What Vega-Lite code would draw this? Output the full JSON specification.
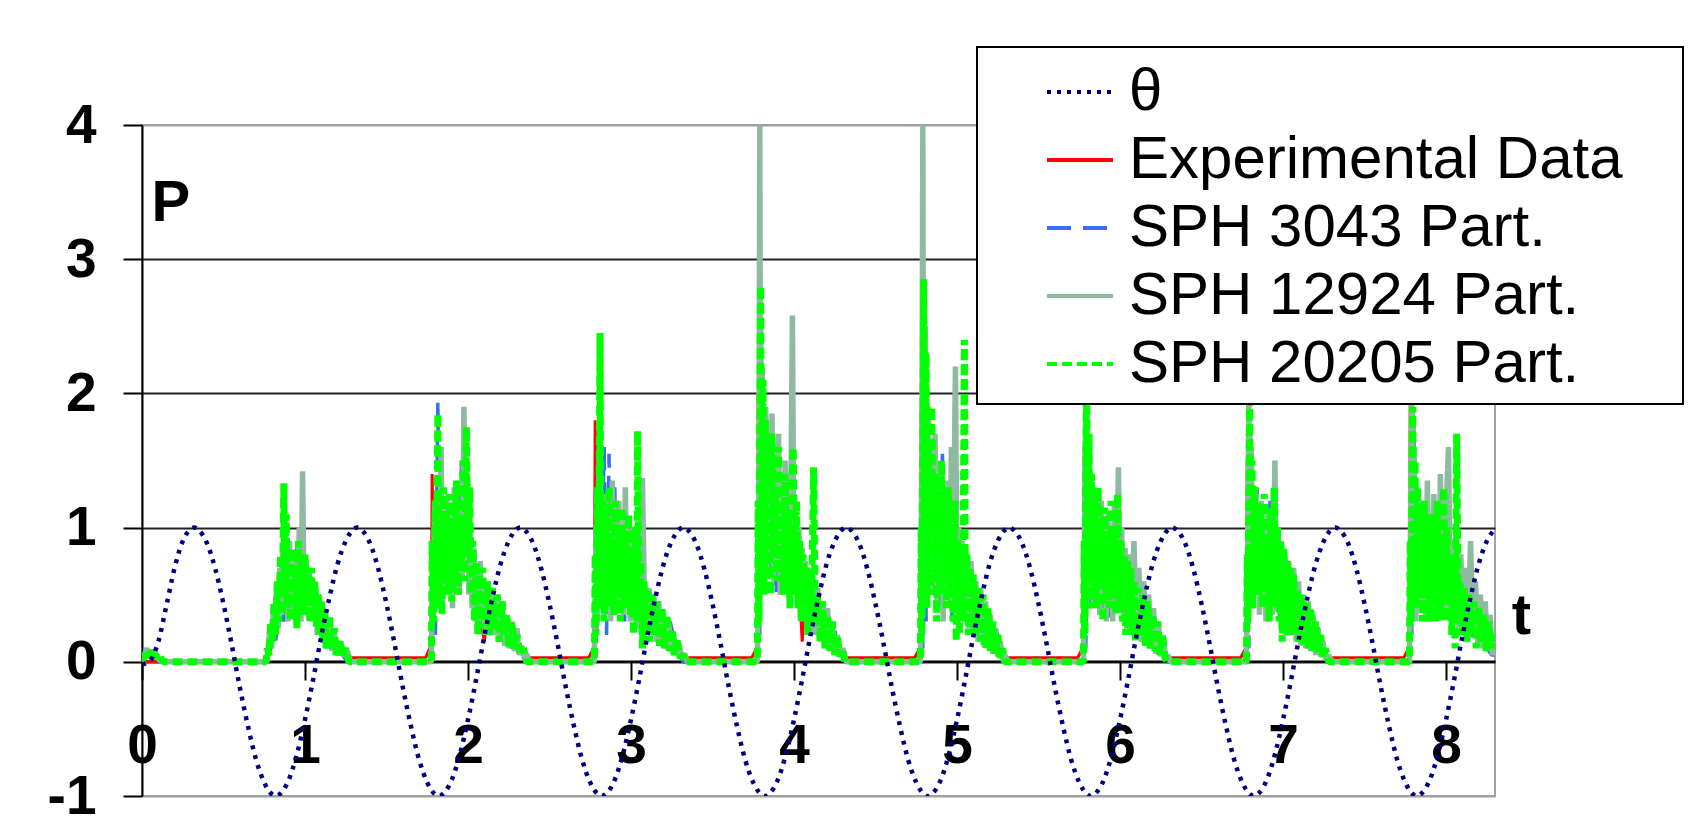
{
"$schema": "https://vega.github.io/schema/vega-lite/v6.json",
"width": 1353, "height": 671,
"autosize": {"type": "none"},
"padding": {"left": 142, "top": 125, "right": 193, "bottom": 36},
"background": "white",
"config": {
  "font": "Liberation Sans",
  "view": {"stroke": "#a0a0a0", "strokeWidth": 2},
  "legend": {"orient": "none", "legendX": 835, "legendY": -78, "symbolType": "stroke", "symbolSize": 4356, "symbolStrokeWidth": 4, "labelFont": "Liberation Sans", "labelFontSize": 60, "labelColor": "black", "labelLimit": 1000, "labelOffset": 14, "padding": 10, "symbolOffset": 58, "rowPadding": 3, "strokeColor": "black", "strokeWidth": 2, "fillColor": "white", "titleOrient": "right", "titlePadding": 50, "titleFontSize": 10, "titleColor": "black"}
},
"datasets": {
"theta": [
{"t":0,"p":-0.02},{"t":0.05,"p":0.01},{"t":0.1,"p":0.15},{"t":0.15,"p":0.42},{"t":0.2,"p":0.7},{"t":0.25,"p":0.9},{"t":0.3,"p":0.99},{"t":0.32,"p":1},{"t":0.35,"p":0.98},{"t":0.4,"p":0.88},{"t":0.45,"p":0.69},{"t":0.5,"p":0.43},{"t":0.55,"p":0.13},{"t":0.6,"p":-0.19},{"t":0.65,"p":-0.48},{"t":0.7,"p":-0.73},{"t":0.75,"p":-0.9},{"t":0.8,"p":-0.99},{"t":0.82,"p":-1},{"t":0.85,"p":-0.98},{"t":0.9,"p":-0.88},{"t":0.95,"p":-0.69},
{"t":1,"p":-0.43},{"t":1.05,"p":-0.13},{"t":1.1,"p":0.19},{"t":1.15,"p":0.48},{"t":1.2,"p":0.73},{"t":1.25,"p":0.9},{"t":1.3,"p":0.99},{"t":1.32,"p":1},{"t":1.35,"p":0.98},{"t":1.4,"p":0.88},{"t":1.45,"p":0.69},{"t":1.5,"p":0.43},{"t":1.55,"p":0.13},{"t":1.6,"p":-0.19},{"t":1.65,"p":-0.48},{"t":1.7,"p":-0.73},{"t":1.75,"p":-0.9},{"t":1.8,"p":-0.99},{"t":1.82,"p":-1},{"t":1.85,"p":-0.98},{"t":1.9,"p":-0.88},{"t":1.95,"p":-0.69},
{"t":2,"p":-0.43},{"t":2.05,"p":-0.13},{"t":2.1,"p":0.19},{"t":2.15,"p":0.48},{"t":2.2,"p":0.73},{"t":2.25,"p":0.9},{"t":2.3,"p":0.99},{"t":2.32,"p":1},{"t":2.35,"p":0.98},{"t":2.4,"p":0.88},{"t":2.45,"p":0.69},{"t":2.5,"p":0.43},{"t":2.55,"p":0.13},{"t":2.6,"p":-0.19},{"t":2.65,"p":-0.48},{"t":2.7,"p":-0.73},{"t":2.75,"p":-0.9},{"t":2.8,"p":-0.99},{"t":2.82,"p":-1},{"t":2.85,"p":-0.98},{"t":2.9,"p":-0.88},{"t":2.95,"p":-0.69},
{"t":3,"p":-0.43},{"t":3.05,"p":-0.13},{"t":3.1,"p":0.19},{"t":3.15,"p":0.48},{"t":3.2,"p":0.73},{"t":3.25,"p":0.9},{"t":3.3,"p":0.99},{"t":3.32,"p":1},{"t":3.35,"p":0.98},{"t":3.4,"p":0.88},{"t":3.45,"p":0.69},{"t":3.5,"p":0.43},{"t":3.55,"p":0.13},{"t":3.6,"p":-0.19},{"t":3.65,"p":-0.48},{"t":3.7,"p":-0.73},{"t":3.75,"p":-0.9},{"t":3.8,"p":-0.99},{"t":3.82,"p":-1},{"t":3.85,"p":-0.98},{"t":3.9,"p":-0.88},{"t":3.95,"p":-0.69},
{"t":4,"p":-0.43},{"t":4.05,"p":-0.13},{"t":4.1,"p":0.19},{"t":4.15,"p":0.48},{"t":4.2,"p":0.73},{"t":4.25,"p":0.9},{"t":4.3,"p":0.99},{"t":4.32,"p":1},{"t":4.35,"p":0.98},{"t":4.4,"p":0.88},{"t":4.45,"p":0.69},{"t":4.5,"p":0.43},{"t":4.55,"p":0.13},{"t":4.6,"p":-0.19},{"t":4.65,"p":-0.48},{"t":4.7,"p":-0.73},{"t":4.75,"p":-0.9},{"t":4.8,"p":-0.99},{"t":4.82,"p":-1},{"t":4.85,"p":-0.98},{"t":4.9,"p":-0.88},{"t":4.95,"p":-0.69},
{"t":5,"p":-0.43},{"t":5.05,"p":-0.13},{"t":5.1,"p":0.19},{"t":5.15,"p":0.48},{"t":5.2,"p":0.73},{"t":5.25,"p":0.9},{"t":5.3,"p":0.99},{"t":5.32,"p":1},{"t":5.35,"p":0.98},{"t":5.4,"p":0.88},{"t":5.45,"p":0.69},{"t":5.5,"p":0.43},{"t":5.55,"p":0.13},{"t":5.6,"p":-0.19},{"t":5.65,"p":-0.48},{"t":5.7,"p":-0.73},{"t":5.75,"p":-0.9},{"t":5.8,"p":-0.99},{"t":5.82,"p":-1},{"t":5.85,"p":-0.98},{"t":5.9,"p":-0.88},{"t":5.95,"p":-0.69},
{"t":6,"p":-0.43},{"t":6.05,"p":-0.13},{"t":6.1,"p":0.19},{"t":6.15,"p":0.48},{"t":6.2,"p":0.73},{"t":6.25,"p":0.9},{"t":6.3,"p":0.99},{"t":6.32,"p":1},{"t":6.35,"p":0.98},{"t":6.4,"p":0.88},{"t":6.45,"p":0.69},{"t":6.5,"p":0.43},{"t":6.55,"p":0.13},{"t":6.6,"p":-0.19},{"t":6.65,"p":-0.48},{"t":6.7,"p":-0.73},{"t":6.75,"p":-0.9},{"t":6.8,"p":-0.99},{"t":6.82,"p":-1},{"t":6.85,"p":-0.98},{"t":6.9,"p":-0.88},{"t":6.95,"p":-0.69},
{"t":7,"p":-0.43},{"t":7.05,"p":-0.13},{"t":7.1,"p":0.19},{"t":7.15,"p":0.48},{"t":7.2,"p":0.73},{"t":7.25,"p":0.9},{"t":7.3,"p":0.99},{"t":7.32,"p":1},{"t":7.35,"p":0.98},{"t":7.4,"p":0.88},{"t":7.45,"p":0.69},{"t":7.5,"p":0.43},{"t":7.55,"p":0.13},{"t":7.6,"p":-0.19},{"t":7.65,"p":-0.48},{"t":7.7,"p":-0.73},{"t":7.75,"p":-0.9},{"t":7.8,"p":-0.99},{"t":7.82,"p":-1},{"t":7.85,"p":-0.98},{"t":7.9,"p":-0.88},{"t":7.95,"p":-0.69},
{"t":8,"p":-0.43},{"t":8.05,"p":-0.13},{"t":8.1,"p":0.19},{"t":8.15,"p":0.48},{"t":8.2,"p":0.73},{"t":8.25,"p":0.9},{"t":8.3,"p":0.99}
],
"expt": [
{"t":0,"p":0},{"t":0.77,"p":0},{"t":0.78,"p":0.05},{"t":0.85,"p":0.4},{"t":0.9,"p":0.6},{"t":0.95,"p":0.5},{"t":1,"p":0.6},{"t":1.05,"p":0.4},{"t":1.1,"p":0.3},{"t":1.2,"p":0.1},{"t":1.26,"p":0.03},
{"t":1.74,"p":0.03},{"t":1.765,"p":0.1},{"t":1.775,"p":0.15},{"t":1.78,"p":1.4},{"t":1.79,"p":0.6},{"t":1.82,"p":1.0},{"t":1.86,"p":0.8},{"t":1.9,"p":1.0},{"t":1.95,"p":0.9},{"t":2,"p":1.0},{"t":2.04,"p":0.5},{"t":2.08,"p":0.3},{"t":2.1,"p":0.15},{"t":2.12,"p":0.4},{"t":2.18,"p":0.35},{"t":2.25,"p":0.25},{"t":2.32,"p":0.1},{"t":2.36,"p":0.03},
{"t":2.74,"p":0.03},{"t":2.77,"p":0.1},{"t":2.775,"p":0.2},{"t":2.78,"p":1.8},{"t":2.79,"p":0.9},{"t":2.82,"p":1.2},{"t":2.86,"p":0.9},{"t":2.9,"p":1.1},{"t":2.95,"p":0.8},{"t":3,"p":0.9},{"t":3.05,"p":0.6},{"t":3.1,"p":0.45},{"t":3.15,"p":0.4},{"t":3.2,"p":0.3},{"t":3.27,"p":0.15},{"t":3.32,"p":0.03},
{"t":3.74,"p":0.03},{"t":3.77,"p":0.1},{"t":3.775,"p":0.2},{"t":3.78,"p":2.0},{"t":3.79,"p":1.0},{"t":3.83,"p":1.5},{"t":3.87,"p":1.2},{"t":3.92,"p":1.3},{"t":3.97,"p":0.9},{"t":4,"p":0.8},{"t":4.03,"p":0.6},{"t":4.05,"p":0.15},{"t":4.07,"p":0.5},{"t":4.12,"p":0.4},{"t":4.18,"p":0.3},{"t":4.24,"p":0.2},{"t":4.3,"p":0.03},
{"t":4.74,"p":0.03},{"t":4.77,"p":0.1},{"t":4.775,"p":0.2},{"t":4.78,"p":1.9},{"t":4.79,"p":0.9},{"t":4.83,"p":1.3},{"t":4.87,"p":1.0},{"t":4.92,"p":1.1},{"t":4.96,"p":0.8},{"t":5,"p":0.7},{"t":5.02,"p":0.5},{"t":5.06,"p":0.55},{"t":5.12,"p":0.4},{"t":5.18,"p":0.25},{"t":5.24,"p":0.15},{"t":5.29,"p":0.03},
{"t":5.74,"p":0.03},{"t":5.77,"p":0.1},{"t":5.775,"p":0.2},{"t":5.78,"p":1.6},{"t":5.79,"p":0.8},{"t":5.83,"p":1.1},{"t":5.87,"p":0.9},{"t":5.92,"p":0.95},{"t":5.96,"p":0.7},{"t":6,"p":0.65},{"t":6.02,"p":0.3},{"t":6.06,"p":0.5},{"t":6.12,"p":0.4},{"t":6.18,"p":0.25},{"t":6.24,"p":0.12},{"t":6.29,"p":0.03},
{"t":6.74,"p":0.03},{"t":6.77,"p":0.1},{"t":6.775,"p":0.2},{"t":6.78,"p":1.5},{"t":6.79,"p":0.7},{"t":6.83,"p":1.0},{"t":6.87,"p":0.85},{"t":6.91,"p":0.9},{"t":6.95,"p":0.75},{"t":6.99,"p":0.6},{"t":7.02,"p":0.2},{"t":7.06,"p":0.45},{"t":7.12,"p":0.35},{"t":7.18,"p":0.22},{"t":7.24,"p":0.1},{"t":7.28,"p":0.03},
{"t":7.74,"p":0.03},{"t":7.77,"p":0.1},{"t":7.775,"p":0.4},{"t":7.78,"p":2.05},{"t":7.79,"p":1.0},{"t":7.83,"p":1.2},{"t":7.87,"p":0.9},{"t":7.92,"p":1.0},{"t":7.96,"p":0.8},{"t":8,"p":0.7},{"t":8.03,"p":0.35},{"t":8.07,"p":0.5},{"t":8.12,"p":0.4},{"t":8.18,"p":0.25},{"t":8.24,"p":0.2},{"t":8.3,"p":0.1}
],
"s3043": [
{"t":0,"p":0},{"t":0.02,"p":0.1},{"t":0.04,"p":0.05},{"t":0.06,"p":0.1},{"t":0.07,"p":0.03},{"t":0.09,"p":0.03},{"t":0.1,"p":0.01},{"t":0.13,"p":0},
{"t":0.77,"p":0},{"t":0.8,"p":0.3},{"t":0.82,"p":0.15},{"t":0.85,"p":0.55},{"t":0.87,"p":0.3},{"t":0.9,"p":0.75},{"t":0.92,"p":0.4},{"t":0.95,"p":0.85},{"t":0.97,"p":0.45},{"t":1,"p":0.7},{"t":1.03,"p":0.35},{"t":1.06,"p":0.55},{"t":1.09,"p":0.2},{"t":1.12,"p":0.35},{"t":1.15,"p":0.1},{"t":1.19,"p":0.2},{"t":1.23,"p":0.05},{"t":1.26,"p":0},
{"t":1.775,"p":0},{"t":1.79,"p":0.4},{"t":1.8,"p":0.2},{"t":1.815,"p":1.95},{"t":1.825,"p":0.5},{"t":1.84,"p":1.1},{"t":1.86,"p":0.5},{"t":1.88,"p":1.0},{"t":1.9,"p":0.6},{"t":1.92,"p":1.05},{"t":1.94,"p":0.5},{"t":1.96,"p":1.5},{"t":1.98,"p":0.7},{"t":2,"p":1.2},{"t":2.02,"p":0.6},{"t":2.04,"p":0.8},{"t":2.06,"p":0.35},{"t":2.09,"p":0.6},{"t":2.12,"p":0.25},{"t":2.15,"p":0.5},{"t":2.19,"p":0.2},{"t":2.23,"p":0.3},{"t":2.27,"p":0.1},{"t":2.31,"p":0.15},{"t":2.35,"p":0},
{"t":2.775,"p":0},{"t":2.785,"p":0.6},{"t":2.79,"p":0.2},{"t":2.8,"p":1.45},{"t":2.815,"p":0.4},{"t":2.835,"p":1.6},{"t":2.85,"p":0.2},{"t":2.865,"p":1.55},{"t":2.88,"p":0.35},{"t":2.9,"p":1.3},{"t":2.92,"p":0.4},{"t":2.94,"p":1.0},{"t":2.96,"p":0.3},{"t":2.98,"p":0.9},{"t":3,"p":0.35},{"t":3.02,"p":0.8},{"t":3.05,"p":0.25},{"t":3.08,"p":0.6},{"t":3.12,"p":0.3},{"t":3.16,"p":0.45},{"t":3.2,"p":0.15},{"t":3.24,"p":0.3},{"t":3.28,"p":0.08},{"t":3.32,"p":0},
{"t":3.775,"p":0},{"t":3.785,"p":0.9},{"t":3.79,"p":0.2},{"t":3.8,"p":2.5},{"t":3.81,"p":0.6},{"t":3.83,"p":1.9},{"t":3.85,"p":0.7},{"t":3.87,"p":1.6},{"t":3.89,"p":0.5},{"t":3.91,"p":1.5},{"t":3.93,"p":0.6},{"t":3.95,"p":1.4},{"t":3.97,"p":0.4},{"t":3.99,"p":1.1},{"t":4.01,"p":0.7},{"t":4.03,"p":0.9},{"t":4.06,"p":0.4},{"t":4.09,"p":0.7},{"t":4.12,"p":0.25},{"t":4.16,"p":0.45},{"t":4.2,"p":0.15},{"t":4.24,"p":0.3},{"t":4.28,"p":0.05},{"t":4.31,"p":0},
{"t":4.775,"p":0},{"t":4.785,"p":0.8},{"t":4.79,"p":0.1},{"t":4.8,"p":2.2},{"t":4.81,"p":0.3},{"t":4.83,"p":1.7},{"t":4.85,"p":0.5},{"t":4.87,"p":1.35},{"t":4.89,"p":0.4},{"t":4.91,"p":1.55},{"t":4.93,"p":0.6},{"t":4.95,"p":1.2},{"t":4.97,"p":0.3},{"t":4.99,"p":1.0},{"t":5.01,"p":0.5},{"t":5.03,"p":0.85},{"t":5.06,"p":0.3},{"t":5.09,"p":0.6},{"t":5.12,"p":0.2},{"t":5.16,"p":0.4},{"t":5.2,"p":0.1},{"t":5.24,"p":0.25},{"t":5.28,"p":0.03},{"t":5.3,"p":0},
{"t":5.775,"p":0},{"t":5.785,"p":0.7},{"t":5.79,"p":0.1},{"t":5.8,"p":1.6},{"t":5.82,"p":0.4},{"t":5.84,"p":1.3},{"t":5.86,"p":0.5},{"t":5.88,"p":1.1},{"t":5.9,"p":0.4},{"t":5.92,"p":1.05},{"t":5.94,"p":0.3},{"t":5.96,"p":0.9},{"t":5.98,"p":0.45},{"t":6,"p":0.8},{"t":6.03,"p":0.3},{"t":6.06,"p":0.6},{"t":6.09,"p":0.25},{"t":6.13,"p":0.45},{"t":6.17,"p":0.15},{"t":6.21,"p":0.3},{"t":6.25,"p":0.05},{"t":6.29,"p":0},
{"t":6.775,"p":0},{"t":6.785,"p":0.6},{"t":6.79,"p":0.1},{"t":6.8,"p":1.7},{"t":6.82,"p":0.4},{"t":6.84,"p":1.3},{"t":6.86,"p":0.5},{"t":6.88,"p":1.05},{"t":6.9,"p":0.35},{"t":6.92,"p":1.2},{"t":6.94,"p":0.4},{"t":6.96,"p":0.9},{"t":6.98,"p":0.3},{"t":7,"p":0.8},{"t":7.03,"p":0.25},{"t":7.06,"p":0.6},{"t":7.09,"p":0.2},{"t":7.13,"p":0.45},{"t":7.17,"p":0.12},{"t":7.21,"p":0.28},{"t":7.25,"p":0.04},{"t":7.28,"p":0},
{"t":7.775,"p":0},{"t":7.785,"p":0.8},{"t":7.79,"p":0.2},{"t":7.8,"p":1.85},{"t":7.82,"p":0.5},{"t":7.84,"p":1.2},{"t":7.86,"p":0.4},{"t":7.88,"p":1.05},{"t":7.9,"p":0.3},{"t":7.92,"p":1.2},{"t":7.94,"p":0.6},{"t":7.96,"p":0.9},{"t":7.98,"p":0.4},{"t":8,"p":0.75},{"t":8.03,"p":0.3},{"t":8.06,"p":0.6},{"t":8.09,"p":0.25},{"t":8.13,"p":0.5},{"t":8.17,"p":0.15},{"t":8.21,"p":0.3},{"t":8.25,"p":0.1},{"t":8.28,"p":0.05},{"t":8.3,"p":0.05}
],
"s12924": [
{"t":0,"p":0},{"t":0.015,"p":0.05},{"t":0.03,"p":0.1},{"t":0.045,"p":0.04},{"t":0.06,"p":0.09},{"t":0.075,"p":0.03},{"t":0.09,"p":0.05},{"t":0.11,"p":0.01},{"t":0.13,"p":0},
{"t":0.765,"p":0},{"t":0.775,"p":0.12},{"t":0.785,"p":0.25},{"t":0.795,"p":0.1},{"t":0.805,"p":0.4},{"t":0.815,"p":0.2},{"t":0.825,"p":0.55},{"t":0.835,"p":0.25},{"t":0.845,"p":0.7},{"t":0.855,"p":0.35},{"t":0.865,"p":0.85},{"t":0.875,"p":0.4},{"t":0.885,"p":0.65},{"t":0.895,"p":0.3},{"t":0.905,"p":0.9},{"t":0.915,"p":0.45},{"t":0.925,"p":0.7},{"t":0.935,"p":0.35},{"t":0.945,"p":0.8},{"t":0.955,"p":0.5},{"t":0.965,"p":1.0},{"t":0.975,"p":0.3},{"t":0.985,"p":1.42},{"t":0.995,"p":0.4},{"t":1.005,"p":0.75},{"t":1.015,"p":0.4},{"t":1.025,"p":0.7},{"t":1.035,"p":0.3},{"t":1.045,"p":0.6},{"t":1.055,"p":0.3},{"t":1.065,"p":0.55},{"t":1.075,"p":0.2},{"t":1.085,"p":0.5},{"t":1.095,"p":0.2},{"t":1.105,"p":0.45},{"t":1.115,"p":0.15},{"t":1.125,"p":0.35},{"t":1.135,"p":0.1},{"t":1.15,"p":0.3},{"t":1.165,"p":0.08},{"t":1.18,"p":0.2},{"t":1.2,"p":0.05},{"t":1.22,"p":0.15},{"t":1.24,"p":0.04},{"t":1.26,"p":0.08},{"t":1.28,"p":0},
{"t":1.775,"p":0},{"t":1.78,"p":0.6},{"t":1.785,"p":0.3},{"t":1.795,"p":1.2},{"t":1.805,"p":0.5},{"t":1.815,"p":1.0},{"t":1.825,"p":0.4},{"t":1.835,"p":1.6},{"t":1.845,"p":0.45},{"t":1.855,"p":1.1},{"t":1.865,"p":0.5},{"t":1.875,"p":1.25},{"t":1.885,"p":0.6},{"t":1.895,"p":1.0},{"t":1.905,"p":0.4},{"t":1.915,"p":1.3},{"t":1.925,"p":0.55},{"t":1.935,"p":1.05},{"t":1.945,"p":0.5},{"t":1.955,"p":1.2},{"t":1.965,"p":0.6},{"t":1.975,"p":1.9},{"t":1.985,"p":0.7},{"t":1.995,"p":1.4},{"t":2.005,"p":0.5},{"t":2.015,"p":1.0},{"t":2.025,"p":0.4},{"t":2.035,"p":0.85},{"t":2.045,"p":0.3},{"t":2.055,"p":0.7},{"t":2.065,"p":0.25},{"t":2.075,"p":0.75},{"t":2.085,"p":0.3},{"t":2.095,"p":0.6},{"t":2.105,"p":0.2},{"t":2.12,"p":0.6},{"t":2.135,"p":0.25},{"t":2.15,"p":0.55},{"t":2.165,"p":0.2},{"t":2.18,"p":0.5},{"t":2.195,"p":0.15},{"t":2.21,"p":0.45},{"t":2.225,"p":0.12},{"t":2.24,"p":0.35},{"t":2.255,"p":0.1},{"t":2.27,"p":0.3},{"t":2.285,"p":0.08},{"t":2.3,"p":0.25},{"t":2.315,"p":0.05},{"t":2.33,"p":0.12},{"t":2.345,"p":0.03},{"t":2.36,"p":0.06},{"t":2.375,"p":0},
{"t":2.775,"p":0},{"t":2.785,"p":1.0},{"t":2.795,"p":0.3},{"t":2.805,"p":1.6},{"t":2.815,"p":0.5},{"t":2.825,"p":1.1},{"t":2.835,"p":0.35},{"t":2.845,"p":1.25},{"t":2.855,"p":0.5},{"t":2.865,"p":0.95},{"t":2.875,"p":0.3},{"t":2.885,"p":1.35},{"t":2.895,"p":0.55},{"t":2.905,"p":1.0},{"t":2.915,"p":0.4},{"t":2.925,"p":1.2},{"t":2.935,"p":0.5},{"t":2.945,"p":0.9},{"t":2.955,"p":0.35},{"t":2.965,"p":1.3},{"t":2.975,"p":0.5},{"t":2.985,"p":0.85},{"t":2.995,"p":0.3},{"t":3.005,"p":1.0},{"t":3.015,"p":0.4},{"t":3.025,"p":0.8},{"t":3.035,"p":0.25},{"t":3.05,"p":0.65},{"t":3.065,"p":0.2},{"t":3.07,"p":1.37},{"t":3.08,"p":0.6},{"t":3.095,"p":0.25},{"t":3.11,"p":0.55},{"t":3.125,"p":0.2},{"t":3.14,"p":0.5},{"t":3.155,"p":0.15},{"t":3.17,"p":0.45},{"t":3.185,"p":0.12},{"t":3.2,"p":0.35},{"t":3.215,"p":0.1},{"t":3.23,"p":0.3},{"t":3.245,"p":0.08},{"t":3.26,"p":0.22},{"t":3.275,"p":0.05},{"t":3.29,"p":0.15},{"t":3.31,"p":0.04},{"t":3.33,"p":0.06},{"t":3.345,"p":0},
{"t":3.775,"p":0},{"t":3.785,"p":1.5},{"t":3.79,"p":4.0},{"t":3.795,"p":0.8},{"t":3.805,"p":2.2},{"t":3.815,"p":0.9},{"t":3.825,"p":1.9},{"t":3.835,"p":0.7},{"t":3.845,"p":1.6},{"t":3.855,"p":0.8},{"t":3.865,"p":1.85},{"t":3.875,"p":0.6},{"t":3.885,"p":1.4},{"t":3.895,"p":0.7},{"t":3.905,"p":1.7},{"t":3.915,"p":0.5},{"t":3.925,"p":1.3},{"t":3.935,"p":0.6},{"t":3.945,"p":1.5},{"t":3.955,"p":0.7},{"t":3.965,"p":1.2},{"t":3.975,"p":0.4},{"t":3.99,"p":2.58},{"t":4,"p":0.5},{"t":4.01,"p":1.1},{"t":4.02,"p":0.4},{"t":4.03,"p":1.0},{"t":4.04,"p":0.3},{"t":4.05,"p":0.85},{"t":4.06,"p":0.3},{"t":4.07,"p":0.75},{"t":4.08,"p":0.25},{"t":4.09,"p":0.7},{"t":4.1,"p":0.2},{"t":4.115,"p":0.6},{"t":4.13,"p":0.2},{"t":4.145,"p":0.55},{"t":4.16,"p":0.15},{"t":4.175,"p":0.45},{"t":4.19,"p":0.12},{"t":4.205,"p":0.4},{"t":4.22,"p":0.1},{"t":4.235,"p":0.3},{"t":4.25,"p":0.06},{"t":4.265,"p":0.2},{"t":4.28,"p":0.04},{"t":4.3,"p":0.1},{"t":4.32,"p":0},
{"t":4.775,"p":0},{"t":4.785,"p":1.8},{"t":4.79,"p":4.0},{"t":4.795,"p":1.0},{"t":4.805,"p":2.5},{"t":4.815,"p":0.7},{"t":4.825,"p":1.9},{"t":4.835,"p":0.5},{"t":4.845,"p":1.5},{"t":4.855,"p":0.7},{"t":4.865,"p":1.7},{"t":4.875,"p":0.4},{"t":4.885,"p":1.3},{"t":4.895,"p":0.6},{"t":4.905,"p":1.4},{"t":4.915,"p":0.3},{"t":4.925,"p":1.2},{"t":4.935,"p":0.5},{"t":4.945,"p":1.35},{"t":4.955,"p":0.4},{"t":4.965,"p":1.6},{"t":4.975,"p":0.5},{"t":4.99,"p":2.2},{"t":5,"p":0.4},{"t":5.01,"p":1.0},{"t":5.02,"p":0.3},{"t":5.03,"p":0.9},{"t":5.04,"p":0.35},{"t":5.055,"p":0.8},{"t":5.07,"p":0.25},{"t":5.085,"p":0.75},{"t":5.1,"p":0.2},{"t":5.115,"p":0.6},{"t":5.13,"p":0.15},{"t":5.145,"p":0.55},{"t":5.16,"p":0.12},{"t":5.175,"p":0.45},{"t":5.19,"p":0.1},{"t":5.205,"p":0.35},{"t":5.22,"p":0.06},{"t":5.235,"p":0.25},{"t":5.25,"p":0.04},{"t":5.265,"p":0.15},{"t":5.28,"p":0.02},{"t":5.295,"p":0.05},{"t":5.31,"p":0},
{"t":5.775,"p":0},{"t":5.785,"p":1.4},{"t":5.79,"p":2.0},{"t":5.795,"p":0.6},{"t":5.805,"p":1.5},{"t":5.815,"p":0.5},{"t":5.825,"p":1.2},{"t":5.835,"p":0.4},{"t":5.845,"p":1.3},{"t":5.855,"p":0.6},{"t":5.865,"p":1.0},{"t":5.875,"p":0.35},{"t":5.885,"p":1.2},{"t":5.895,"p":0.5},{"t":5.905,"p":0.9},{"t":5.915,"p":0.3},{"t":5.925,"p":1.1},{"t":5.935,"p":0.45},{"t":5.945,"p":1.0},{"t":5.955,"p":0.3},{"t":5.965,"p":1.2},{"t":5.975,"p":0.5},{"t":5.99,"p":1.45},{"t":6,"p":0.4},{"t":6.01,"p":1.0},{"t":6.02,"p":0.3},{"t":6.03,"p":0.85},{"t":6.04,"p":0.25},{"t":6.055,"p":0.8},{"t":6.07,"p":0.3},{"t":6.085,"p":0.9},{"t":6.1,"p":0.2},{"t":6.115,"p":0.7},{"t":6.13,"p":0.15},{"t":6.145,"p":0.6},{"t":6.16,"p":0.12},{"t":6.175,"p":0.5},{"t":6.19,"p":0.1},{"t":6.205,"p":0.4},{"t":6.22,"p":0.06},{"t":6.235,"p":0.3},{"t":6.25,"p":0.04},{"t":6.265,"p":0.2},{"t":6.28,"p":0.02},{"t":6.295,"p":0.05},{"t":6.31,"p":0},
{"t":6.775,"p":0},{"t":6.785,"p":1.2},{"t":6.79,"p":2.0},{"t":6.795,"p":0.5},{"t":6.805,"p":1.6},{"t":6.815,"p":0.4},{"t":6.825,"p":1.3},{"t":6.835,"p":0.5},{"t":6.845,"p":1.1},{"t":6.855,"p":0.35},{"t":6.865,"p":1.2},{"t":6.875,"p":0.5},{"t":6.885,"p":0.95},{"t":6.895,"p":0.3},{"t":6.905,"p":1.1},{"t":6.915,"p":0.45},{"t":6.925,"p":1.0},{"t":6.935,"p":0.35},{"t":6.95,"p":1.5},{"t":6.96,"p":0.4},{"t":6.97,"p":1.0},{"t":6.98,"p":0.35},{"t":6.99,"p":0.9},{"t":7,"p":0.25},{"t":7.01,"p":0.8},{"t":7.02,"p":0.2},{"t":7.035,"p":0.75},{"t":7.05,"p":0.2},{"t":7.065,"p":0.7},{"t":7.08,"p":0.15},{"t":7.095,"p":0.6},{"t":7.11,"p":0.12},{"t":7.125,"p":0.5},{"t":7.14,"p":0.1},{"t":7.155,"p":0.45},{"t":7.17,"p":0.08},{"t":7.185,"p":0.35},{"t":7.2,"p":0.05},{"t":7.215,"p":0.25},{"t":7.23,"p":0.04},{"t":7.245,"p":0.15},{"t":7.26,"p":0.02},{"t":7.28,"p":0.05},{"t":7.3,"p":0},
{"t":7.775,"p":0},{"t":7.785,"p":1.5},{"t":7.79,"p":2.0},{"t":7.795,"p":0.4},{"t":7.805,"p":1.6},{"t":7.815,"p":0.3},{"t":7.825,"p":1.3},{"t":7.835,"p":0.5},{"t":7.845,"p":1.2},{"t":7.855,"p":0.4},{"t":7.865,"p":1.1},{"t":7.875,"p":0.3},{"t":7.885,"p":1.35},{"t":7.895,"p":0.5},{"t":7.905,"p":1.0},{"t":7.915,"p":0.35},{"t":7.925,"p":1.25},{"t":7.935,"p":0.45},{"t":7.945,"p":1.1},{"t":7.955,"p":0.4},{"t":7.965,"p":1.4},{"t":7.975,"p":0.5},{"t":7.985,"p":1.2},{"t":7.995,"p":0.4},{"t":8.005,"p":1.3},{"t":8.015,"p":1.6},{"t":8.025,"p":0.4},{"t":8.035,"p":0.9},{"t":8.045,"p":0.3},{"t":8.06,"p":1.0},{"t":8.075,"p":0.25},{"t":8.09,"p":0.8},{"t":8.105,"p":0.2},{"t":8.12,"p":0.7},{"t":8.135,"p":0.15},{"t":8.15,"p":0.9},{"t":8.165,"p":0.2},{"t":8.18,"p":0.6},{"t":8.195,"p":0.12},{"t":8.21,"p":0.5},{"t":8.225,"p":0.1},{"t":8.24,"p":0.45},{"t":8.255,"p":0.08},{"t":8.27,"p":0.35},{"t":8.285,"p":0.05},{"t":8.3,"p":0.2}
],
"s20205": [
{"t":0,"p":0},{"t":0.02,"p":0.06},{"t":0.035,"p":0.02},{"t":0.05,"p":0.08},{"t":0.065,"p":0.03},{"t":0.08,"p":0.06},{"t":0.095,"p":0.02},{"t":0.11,"p":0.04},{"t":0.13,"p":0},
{"t":0.76,"p":0},{"t":0.77,"p":0.1},{"t":0.78,"p":0.05},{"t":0.79,"p":0.3},{"t":0.8,"p":0.15},{"t":0.81,"p":0.45},{"t":0.82,"p":0.2},{"t":0.83,"p":0.6},{"t":0.84,"p":0.3},{"t":0.85,"p":0.8},{"t":0.86,"p":0.35},{"t":0.87,"p":1.33},{"t":0.875,"p":0.5},{"t":0.885,"p":1.1},{"t":0.89,"p":0.4},{"t":0.9,"p":0.75},{"t":0.91,"p":0.3},{"t":0.92,"p":0.85},{"t":0.93,"p":0.45},{"t":0.94,"p":0.7},{"t":0.95,"p":0.25},{"t":0.96,"p":0.9},{"t":0.97,"p":0.4},{"t":0.98,"p":0.75},{"t":0.99,"p":0.35},{"t":1,"p":0.8},{"t":1.01,"p":0.45},{"t":1.02,"p":0.65},{"t":1.03,"p":0.3},{"t":1.04,"p":0.7},{"t":1.05,"p":0.35},{"t":1.06,"p":0.6},{"t":1.07,"p":0.25},{"t":1.08,"p":0.5},{"t":1.09,"p":0.2},{"t":1.1,"p":0.45},{"t":1.11,"p":0.15},{"t":1.12,"p":0.4},{"t":1.13,"p":0.1},{"t":1.15,"p":0.35},{"t":1.16,"p":0.1},{"t":1.18,"p":0.25},{"t":1.19,"p":0.05},{"t":1.21,"p":0.15},{"t":1.23,"p":0.05},{"t":1.25,"p":0.1},{"t":1.27,"p":0},
{"t":1.775,"p":0},{"t":1.78,"p":0.9},{"t":1.79,"p":0.3},{"t":1.8,"p":1.2},{"t":1.805,"p":0.5},{"t":1.815,"p":1.85},{"t":1.82,"p":0.4},{"t":1.83,"p":1.0},{"t":1.84,"p":0.35},{"t":1.85,"p":1.3},{"t":1.86,"p":0.6},{"t":1.87,"p":1.1},{"t":1.88,"p":0.5},{"t":1.89,"p":1.25},{"t":1.9,"p":0.45},{"t":1.91,"p":1.0},{"t":1.92,"p":0.6},{"t":1.93,"p":1.35},{"t":1.94,"p":0.5},{"t":1.95,"p":1.1},{"t":1.96,"p":0.7},{"t":1.97,"p":1.5},{"t":1.98,"p":0.6},{"t":1.99,"p":1.75},{"t":2,"p":0.8},{"t":2.01,"p":1.3},{"t":2.02,"p":0.5},{"t":2.03,"p":0.9},{"t":2.04,"p":0.3},{"t":2.05,"p":0.75},{"t":2.06,"p":0.2},{"t":2.07,"p":0.65},{"t":2.08,"p":0.25},{"t":2.09,"p":0.7},{"t":2.1,"p":0.3},{"t":2.12,"p":0.6},{"t":2.13,"p":0.2},{"t":2.15,"p":0.55},{"t":2.16,"p":0.25},{"t":2.18,"p":0.5},{"t":2.19,"p":0.15},{"t":2.21,"p":0.45},{"t":2.22,"p":0.2},{"t":2.24,"p":0.35},{"t":2.25,"p":0.1},{"t":2.27,"p":0.3},{"t":2.28,"p":0.1},{"t":2.3,"p":0.2},{"t":2.32,"p":0.05},{"t":2.34,"p":0.1},{"t":2.36,"p":0},
{"t":2.775,"p":0},{"t":2.78,"p":0.8},{"t":2.785,"p":0.2},{"t":2.795,"p":1.3},{"t":2.8,"p":0.4},{"t":2.81,"p":2.45},{"t":2.815,"p":0.6},{"t":2.825,"p":1.2},{"t":2.835,"p":0.3},{"t":2.845,"p":1.1},{"t":2.855,"p":0.4},{"t":2.865,"p":1.3},{"t":2.875,"p":0.5},{"t":2.885,"p":0.9},{"t":2.895,"p":0.35},{"t":2.905,"p":1.2},{"t":2.915,"p":0.5},{"t":2.925,"p":1.0},{"t":2.935,"p":0.3},{"t":2.945,"p":1.15},{"t":2.955,"p":0.45},{"t":2.965,"p":0.95},{"t":2.975,"p":0.4},{"t":2.985,"p":1.1},{"t":2.995,"p":0.35},{"t":3.005,"p":0.8},{"t":3.015,"p":0.2},{"t":3.025,"p":1.0},{"t":3.035,"p":0.3},{"t":3.04,"p":1.72},{"t":3.05,"p":0.35},{"t":3.06,"p":0.75},{"t":3.07,"p":0.1},{"t":3.08,"p":0.6},{"t":3.09,"p":0.2},{"t":3.1,"p":0.55},{"t":3.115,"p":0.15},{"t":3.13,"p":0.5},{"t":3.145,"p":0.2},{"t":3.16,"p":0.45},{"t":3.175,"p":0.12},{"t":3.19,"p":0.4},{"t":3.205,"p":0.1},{"t":3.22,"p":0.35},{"t":3.235,"p":0.08},{"t":3.25,"p":0.25},{"t":3.265,"p":0.05},{"t":3.28,"p":0.18},{"t":3.3,"p":0.03},{"t":3.32,"p":0.05},{"t":3.33,"p":0},
{"t":3.775,"p":0},{"t":3.78,"p":1.2},{"t":3.785,"p":0.3},{"t":3.795,"p":2.8},{"t":3.8,"p":0.7},{"t":3.81,"p":2.1},{"t":3.815,"p":0.5},{"t":3.825,"p":1.8},{"t":3.835,"p":0.6},{"t":3.845,"p":1.5},{"t":3.855,"p":0.5},{"t":3.865,"p":1.7},{"t":3.875,"p":0.8},{"t":3.885,"p":1.3},{"t":3.895,"p":0.6},{"t":3.905,"p":1.6},{"t":3.915,"p":0.7},{"t":3.925,"p":1.2},{"t":3.935,"p":0.5},{"t":3.945,"p":1.4},{"t":3.955,"p":0.6},{"t":3.965,"p":1.1},{"t":3.975,"p":0.4},{"t":3.985,"p":1.3},{"t":3.995,"p":1.6},{"t":4.005,"p":0.5},{"t":4.015,"p":1.2},{"t":4.025,"p":0.4},{"t":4.035,"p":0.9},{"t":4.045,"p":0.3},{"t":4.055,"p":0.8},{"t":4.065,"p":0.35},{"t":4.075,"p":0.7},{"t":4.085,"p":0.2},{"t":4.095,"p":0.6},{"t":4.105,"p":0.25},{"t":4.12,"p":1.45},{"t":4.13,"p":0.3},{"t":4.145,"p":0.5},{"t":4.16,"p":0.15},{"t":4.175,"p":0.45},{"t":4.19,"p":0.1},{"t":4.205,"p":0.35},{"t":4.22,"p":0.08},{"t":4.235,"p":0.3},{"t":4.25,"p":0.05},{"t":4.265,"p":0.2},{"t":4.28,"p":0.04},{"t":4.295,"p":0.1},{"t":4.31,"p":0},
{"t":4.775,"p":0},{"t":4.78,"p":1.0},{"t":4.785,"p":0.2},{"t":4.795,"p":2.85},{"t":4.8,"p":0.5},{"t":4.81,"p":2.3},{"t":4.815,"p":0.4},{"t":4.825,"p":1.6},{"t":4.835,"p":0.5},{"t":4.845,"p":1.9},{"t":4.855,"p":0.6},{"t":4.865,"p":1.4},{"t":4.875,"p":0.3},{"t":4.885,"p":1.2},{"t":4.895,"p":0.5},{"t":4.905,"p":1.5},{"t":4.915,"p":0.6},{"t":4.925,"p":1.1},{"t":4.935,"p":0.4},{"t":4.945,"p":1.3},{"t":4.955,"p":0.5},{"t":4.965,"p":1.0},{"t":4.975,"p":0.3},{"t":4.985,"p":1.2},{"t":4.995,"p":0.15},{"t":5.005,"p":0.9},{"t":5.015,"p":0.2},{"t":5.025,"p":0.85},{"t":5.035,"p":0.3},{"t":5.045,"p":2.4},{"t":5.05,"p":0.5},{"t":5.06,"p":0.8},{"t":5.07,"p":0.2},{"t":5.08,"p":0.7},{"t":5.09,"p":0.25},{"t":5.1,"p":0.65},{"t":5.115,"p":0.2},{"t":5.13,"p":0.55},{"t":5.145,"p":0.15},{"t":5.16,"p":0.5},{"t":5.175,"p":0.1},{"t":5.19,"p":0.4},{"t":5.205,"p":0.08},{"t":5.22,"p":0.3},{"t":5.235,"p":0.05},{"t":5.25,"p":0.2},{"t":5.265,"p":0.03},{"t":5.28,"p":0.1},{"t":5.29,"p":0},
{"t":5.775,"p":0},{"t":5.78,"p":0.9},{"t":5.785,"p":0.2},{"t":5.795,"p":2.3},{"t":5.8,"p":0.6},{"t":5.81,"p":1.7},{"t":5.815,"p":0.4},{"t":5.825,"p":1.4},{"t":5.835,"p":0.5},{"t":5.845,"p":1.2},{"t":5.855,"p":0.4},{"t":5.865,"p":1.3},{"t":5.875,"p":0.6},{"t":5.885,"p":1.0},{"t":5.895,"p":0.3},{"t":5.905,"p":1.15},{"t":5.915,"p":0.5},{"t":5.925,"p":0.95},{"t":5.935,"p":0.4},{"t":5.945,"p":1.2},{"t":5.955,"p":0.5},{"t":5.965,"p":1.0},{"t":5.975,"p":0.35},{"t":5.985,"p":1.25},{"t":5.995,"p":0.4},{"t":6.005,"p":0.9},{"t":6.015,"p":0.3},{"t":6.025,"p":0.8},{"t":6.035,"p":0.2},{"t":6.045,"p":0.75},{"t":6.055,"p":0.25},{"t":6.065,"p":0.7},{"t":6.075,"p":0.2},{"t":6.085,"p":0.6},{"t":6.095,"p":0.15},{"t":6.11,"p":0.55},{"t":6.125,"p":0.2},{"t":6.14,"p":0.5},{"t":6.155,"p":0.12},{"t":6.17,"p":0.45},{"t":6.185,"p":0.1},{"t":6.2,"p":0.35},{"t":6.215,"p":0.08},{"t":6.23,"p":0.3},{"t":6.245,"p":0.05},{"t":6.26,"p":0.2},{"t":6.275,"p":0.03},{"t":6.29,"p":0},
{"t":6.775,"p":0},{"t":6.78,"p":0.8},{"t":6.785,"p":0.3},{"t":6.795,"p":1.95},{"t":6.8,"p":0.5},{"t":6.81,"p":1.5},{"t":6.815,"p":0.4},{"t":6.825,"p":1.3},{"t":6.835,"p":0.6},{"t":6.845,"p":1.2},{"t":6.855,"p":0.5},{"t":6.865,"p":1.1},{"t":6.875,"p":0.4},{"t":6.885,"p":1.25},{"t":6.895,"p":0.6},{"t":6.905,"p":0.95},{"t":6.915,"p":0.3},{"t":6.925,"p":1.15},{"t":6.935,"p":0.5},{"t":6.945,"p":1.3},{"t":6.955,"p":0.4},{"t":6.965,"p":1.0},{"t":6.975,"p":0.3},{"t":6.985,"p":0.9},{"t":6.995,"p":0.15},{"t":7.005,"p":0.85},{"t":7.015,"p":0.3},{"t":7.025,"p":0.75},{"t":7.035,"p":0.2},{"t":7.045,"p":0.7},{"t":7.055,"p":0.25},{"t":7.065,"p":0.65},{"t":7.075,"p":0.2},{"t":7.085,"p":0.55},{"t":7.095,"p":0.15},{"t":7.11,"p":0.5},{"t":7.125,"p":0.12},{"t":7.14,"p":0.45},{"t":7.155,"p":0.1},{"t":7.17,"p":0.4},{"t":7.185,"p":0.08},{"t":7.2,"p":0.3},{"t":7.215,"p":0.05},{"t":7.23,"p":0.2},{"t":7.245,"p":0.03},{"t":7.26,"p":0.1},{"t":7.28,"p":0},
{"t":7.775,"p":0},{"t":7.78,"p":0.9},{"t":7.785,"p":0.3},{"t":7.795,"p":1.9},{"t":7.8,"p":0.5},{"t":7.81,"p":1.5},{"t":7.815,"p":0.4},{"t":7.825,"p":1.3},{"t":7.835,"p":0.5},{"t":7.845,"p":1.1},{"t":7.855,"p":0.3},{"t":7.865,"p":1.2},{"t":7.875,"p":0.5},{"t":7.885,"p":1.0},{"t":7.895,"p":0.3},{"t":7.905,"p":1.1},{"t":7.915,"p":0.5},{"t":7.925,"p":0.9},{"t":7.935,"p":0.3},{"t":7.945,"p":1.2},{"t":7.955,"p":0.4},{"t":7.965,"p":0.95},{"t":7.975,"p":0.3},{"t":7.985,"p":1.3},{"t":7.995,"p":0.5},{"t":8.005,"p":1.0},{"t":8.015,"p":0.3},{"t":8.025,"p":0.8},{"t":8.035,"p":0.2},{"t":8.045,"p":0.75},{"t":8.055,"p":0.1},{"t":8.065,"p":1.7},{"t":8.075,"p":0.3},{"t":8.085,"p":0.6},{"t":8.095,"p":0.2},{"t":8.11,"p":0.55},{"t":8.125,"p":0.15},{"t":8.14,"p":0.5},{"t":8.155,"p":0.2},{"t":8.17,"p":0.45},{"t":8.185,"p":0.1},{"t":8.2,"p":0.4},{"t":8.215,"p":0.15},{"t":8.23,"p":0.35},{"t":8.245,"p":0.08},{"t":8.26,"p":0.3},{"t":8.275,"p":0.1},{"t":8.29,"p":0.2},{"t":8.3,"p":0.1}
]
},
"encoding": {
  "x": {"field": "t", "type": "quantitative", "scale": {"domain": [0, 8.3], "nice": false, "zero": false},
    "axis": {"orient": "bottom", "offset": -135, "values": [0,1,2,3,4,5,6,7,8], "labelExpr": "toString(datum.value)", "labelFont": "Liberation Sans", "labelFontWeight": "bold", "labelFontSize": 55, "labelColor": "black", "labelPadding": 39, "labelFlush": false, "labelOverlap": false, "labelBound": false, "tickColor": "black", "tickSize": 19, "tickWidth": 2, "domainColor": "black", "domainWidth": 2, "grid": false,
      "title": "t", "titleFont": "Liberation Sans", "titleFontSize": 58, "titleFontWeight": "bold", "titleColor": "black", "titleX": 1379, "titleY": -28, "titleAlign": "center", "titleBaseline": "alphabetic", "titleAngle": 0}},
  "y": {"field": "p", "type": "quantitative", "scale": {"domain": [-1, 4], "nice": false},
    "axis": {"orient": "left", "values": [-1,0,1,2,3,4], "labelExpr": "toString(datum.value)", "labelFont": "Liberation Sans", "labelFontWeight": "bold", "labelFontSize": 55, "labelColor": "black", "labelPadding": 27, "labelOverlap": false, "labelBound": false, "labelFlush": false, "tickColor": "black", "tickSize": 19, "tickWidth": 2, "domainColor": "black", "domainWidth": 2,
      "grid": true, "gridWidth": 2, "gridColor": {"condition": {"test": "datum.value === 4 || datum.value === -1", "value": "#a0a0a0"}, "value": "#222222"},
      "title": "P", "titleFont": "Liberation Sans", "titleFontSize": 58, "titleFontWeight": "bold", "titleColor": "black", "titleX": 9, "titleY": 95, "titleAlign": "left", "titleBaseline": "alphabetic", "titleAngle": 0}}
},
"layer": [
  {"data": {"name": "expt"}, "mark": {"type": "line", "strokeWidth": 3, "clip": true, "strokeJoin": "bevel"},
   "encoding": {
     "color": {"datum": "Experimental Data", "scale": {"domain": ["θ","Experimental Data","SPH 3043 Part.","SPH 12924 Part.","SPH 20205 Part."], "range": ["#000080","#ff0000","#3d6df2","#8fb9a0","#00ff00"]}, "legend": {"title": " "}},
     "strokeDash": {"datum": "Experimental Data", "scale": {"domain": ["θ","Experimental Data","SPH 3043 Part.","SPH 12924 Part.","SPH 20205 Part."], "range": [[4,6],[1,0],[24,12],[1,0],[10,5]]}, "legend": {"title": " "}}}},
  {"data": {"name": "s3043"}, "mark": {"type": "line", "strokeWidth": 3.5, "clip": true, "strokeJoin": "bevel"},
   "encoding": {
     "color": {"datum": "SPH 3043 Part.", "scale": {"domain": ["θ","Experimental Data","SPH 3043 Part.","SPH 12924 Part.","SPH 20205 Part."], "range": ["#000080","#ff0000","#3d6df2","#8fb9a0","#00ff00"]}, "legend": {"title": " "}},
     "strokeDash": {"datum": "SPH 3043 Part.", "scale": {"domain": ["θ","Experimental Data","SPH 3043 Part.","SPH 12924 Part.","SPH 20205 Part."], "range": [[4,6],[1,0],[24,12],[1,0],[10,5]]}, "legend": {"title": " "}}}},
  {"data": {"name": "s12924"}, "mark": {"type": "line", "strokeWidth": 5.5, "clip": true, "strokeJoin": "bevel"},
   "encoding": {
     "color": {"datum": "SPH 12924 Part.", "scale": {"domain": ["θ","Experimental Data","SPH 3043 Part.","SPH 12924 Part.","SPH 20205 Part."], "range": ["#000080","#ff0000","#3d6df2","#8fb9a0","#00ff00"]}, "legend": {"title": " "}},
     "strokeDash": {"datum": "SPH 12924 Part.", "scale": {"domain": ["θ","Experimental Data","SPH 3043 Part.","SPH 12924 Part.","SPH 20205 Part."], "range": [[4,6],[1,0],[24,12],[1,0],[10,5]]}, "legend": {"title": " "}}}},
  {"data": {"name": "s20205"}, "mark": {"type": "line", "strokeWidth": 7, "clip": true, "strokeJoin": "bevel"},
   "encoding": {
     "color": {"datum": "SPH 20205 Part.", "scale": {"domain": ["θ","Experimental Data","SPH 3043 Part.","SPH 12924 Part.","SPH 20205 Part."], "range": ["#000080","#ff0000","#3d6df2","#8fb9a0","#00ff00"]}, "legend": {"title": " "}},
     "strokeDash": {"datum": "SPH 20205 Part.", "scale": {"domain": ["θ","Experimental Data","SPH 3043 Part.","SPH 12924 Part.","SPH 20205 Part."], "range": [[4,6],[1,0],[24,12],[1,0],[10,5]]}, "legend": {"title": " "}}}},
  {"data": {"name": "theta"}, "mark": {"type": "line", "strokeWidth": 4.5, "clip": true, "interpolate": "monotone"},
   "encoding": {
     "color": {"datum": "θ", "scale": {"domain": ["θ","Experimental Data","SPH 3043 Part.","SPH 12924 Part.","SPH 20205 Part."], "range": ["#000080","#ff0000","#3d6df2","#8fb9a0","#00ff00"]}, "legend": {"title": " "}},
     "strokeDash": {"datum": "θ", "scale": {"domain": ["θ","Experimental Data","SPH 3043 Part.","SPH 12924 Part.","SPH 20205 Part."], "range": [[4,6],[1,0],[24,12],[1,0],[10,5]]}, "legend": {"title": " "}}}}
]
}
